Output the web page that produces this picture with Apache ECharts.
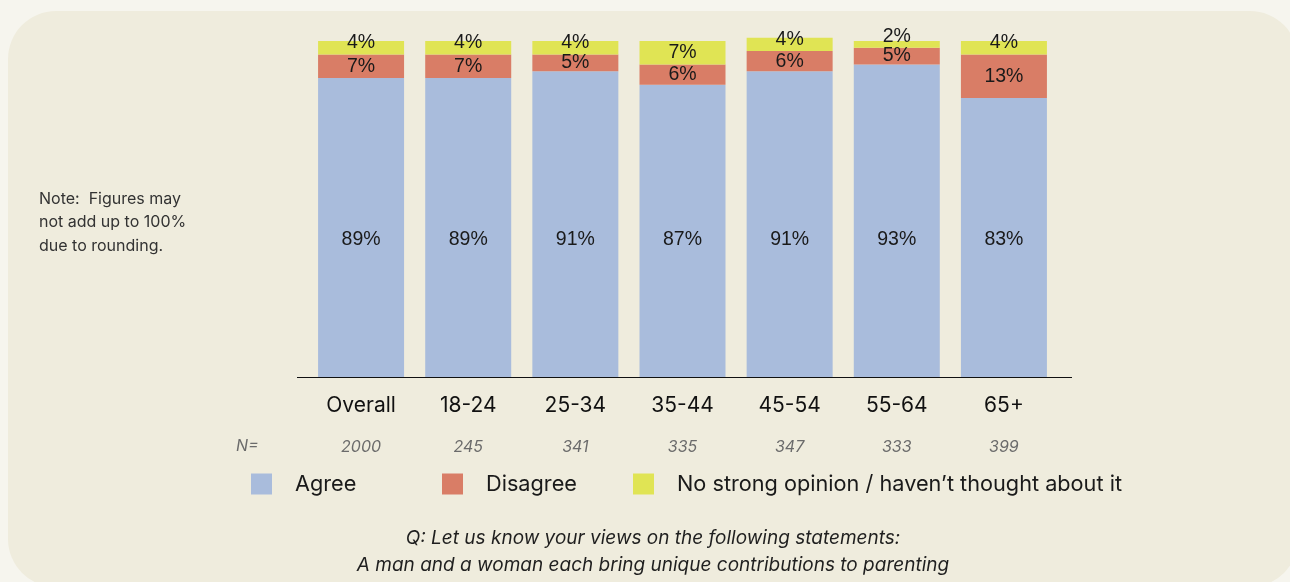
<!DOCTYPE html>
<html>
<head>
<meta charset="utf-8">
<script src="https://cdn.jsdelivr.net/npm/echarts@6/dist/echarts.min.js"></script>
<style>
  html, body { margin: 0; padding: 0; background: #f6f5ee; }
  #chart { width: 1290px; height: 582px; }
</style>
</head>
<body>
<div id="chart"></div>
<script>
// Age groups and their sample sizes
const categories = ['Overall', '18-24', '25-34', '35-44', '45-54', '55-64', '65+'];
const sampleSizes = ['2000', '245', '341', '335', '347', '333', '399'];

// Share of respondents (%) per answer
const agree = [89, 89, 91, 87, 91, 93, 83];
const disagree = [7, 7, 5, 6, 6, 5, 13];
const noOpinion = [4, 4, 4, 7, 4, 2, 4];

const seriesNames = ['Agree', 'Disagree', 'No strong opinion / haven\u2019t thought about it'];
const colors = ['#a9bcdc', '#d97d66', '#e0e454'];

const noteLines = ['Note:  Figures may', 'not add up to 100%', 'due to rounding.'];
const questionLines = [
  'Q: Let us know your views on the following statements:',
  'A man and a woman each bring unique contributions to parenting'
];

const chart = echarts.init(document.getElementById('chart'), null, { renderer: 'canvas' });

const labelFont = {
  fontFamily: '"Liberation Sans", Arial, sans-serif',
  fontSize: 19.5,
  color: '#1a1a1a'
};

// Small slices get their label nudged upwards so it stays readable above the red label
function topLabelOffset(v) {
  return -Math.min(8, Math.max(0, (7 - v) * 1.7));
}

const legendBase = {
  orient: 'horizontal',
  top: 473,
  padding: 0,
  itemWidth: 21,
  itemHeight: 21,
  icon: 'rect',
  selectedMode: false,
  textStyle: {
    fontFamily: 'Inter, "Noto Sans", sans-serif',
    fontSize: 21.7,
    color: '#1a1a1a',
    padding: [0, 0, 0, 18]
  }
};

const option = {
  backgroundColor: '#f6f5ee',
  color: colors,
  animation: false,
  grid: { left: 307.5, right: 232.5, top: 41, bottom: 205 },
  legend: [
    Object.assign({}, legendBase, { left: 251, data: [seriesNames[0]] }),
    Object.assign({}, legendBase, { left: 442, data: [seriesNames[1]] }),
    Object.assign({}, legendBase, { left: 633, data: [seriesNames[2]] })
  ],
  xAxis: [
    {
      type: 'category',
      data: categories,
      axisLine: { show: false },
      axisTick: { show: false },
      axisLabel: {
        margin: 18,
        fontFamily: 'Inter, "Noto Sans", sans-serif',
        fontSize: 21,
        color: '#111'
      }
    },
    {
      type: 'category',
      data: sampleSizes,
      position: 'bottom',
      axisLine: { show: false },
      axisTick: { show: false },
      axisLabel: {
        margin: 62,
        fontFamily: 'Inter, "Noto Sans", sans-serif',
        fontStyle: 'italic',
        fontSize: 16,
        color: '#6b6b6b'
      }
    }
  ],
  yAxis: {
    type: 'value',
    min: 0,
    max: 100,
    show: false,
    splitLine: { show: false }
  },
  series: [
    {
      name: seriesNames[0],
      type: 'bar',
      stack: 'total',
      barWidth: 86,
      clip: false,
      data: agree,
      label: Object.assign({
        show: true,
        position: 'insideBottom',
        distance: 127,
        formatter: '{c}%'
      }, labelFont)
    },
    {
      name: seriesNames[1],
      type: 'bar',
      stack: 'total',
      barWidth: 86,
      clip: false,
      data: disagree,
      label: Object.assign({
        show: true,
        position: 'inside',
        formatter: '{c}%'
      }, labelFont)
    },
    {
      name: seriesNames[2],
      type: 'bar',
      stack: 'total',
      barWidth: 86,
      clip: false,
      data: noOpinion.map(v => ({
        value: v,
        label: { offset: [0, topLabelOffset(v)] }
      })),
      label: Object.assign({
        show: true,
        position: 'inside',
        formatter: '{c}%'
      }, labelFont)
    }
  ],
  graphic: [
    {
      type: 'rect',
      z: -10,
      silent: true,
      shape: { x: 8, y: 11, width: 1290, height: 576, r: 48 },
      style: { fill: '#efecdd' }
    },
    {
      type: 'line',
      z: 10,
      silent: true,
      shape: { x1: 297, y1: 377.5, x2: 1072, y2: 377.5 },
      style: { stroke: '#111', lineWidth: 1.2 }
    },
    {
      type: 'text',
      silent: true,
      left: 236,
      top: 438,
      style: {
        text: 'N=',
        font: 'italic 16px Inter, "Noto Sans", sans-serif',
        fill: '#6b6b6b'
      }
    },
    {
      type: 'text',
      silent: true,
      left: 39,
      top: 187,
      style: {
        text: noteLines.join('\n'),
        font: '16px Inter, "Noto Sans", sans-serif',
        lineHeight: 23.5,
        fill: '#333'
      }
    },
    {
      type: 'text',
      silent: true,
      x: 653,
      y: 525,
      style: {
        text: questionLines.join('\n'),
        font: 'italic 19px Inter, "Noto Sans", sans-serif',
        lineHeight: 27,
        align: 'center',
        fill: '#1f1f1f'
      }
    }
  ]
};

chart.setOption(option);
</script>
</body>
</html>
